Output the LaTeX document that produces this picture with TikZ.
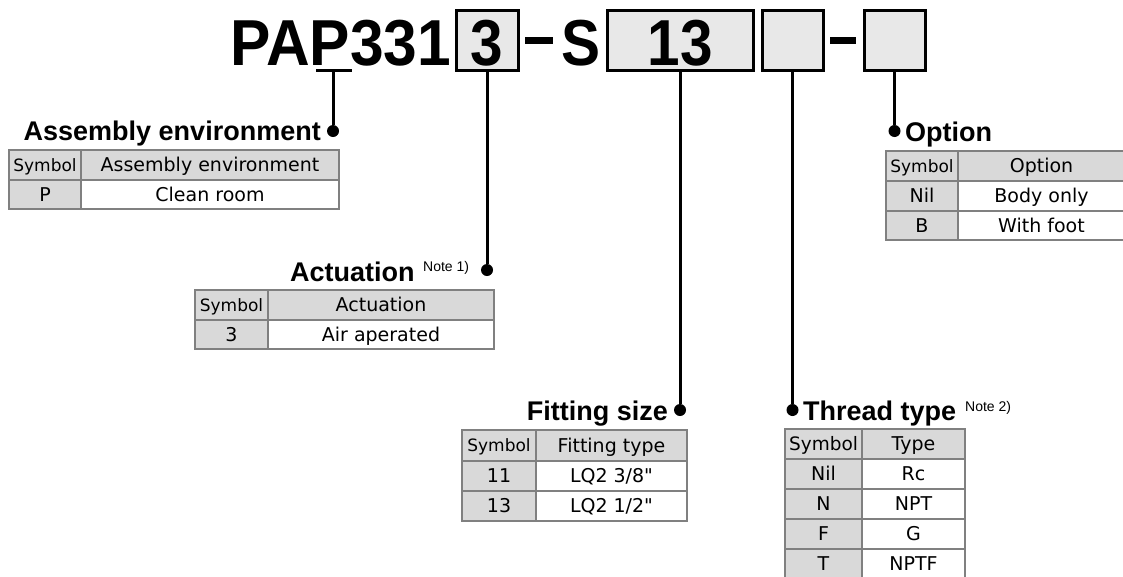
\documentclass[tikz,border=0pt]{standalone}
\usepackage{fontspec}
\setmainfont{DejaVu Sans}[Ligatures=TeXOff]
\newfontfamily\hfont{Liberation Sans}
\definecolor{tblgray}{HTML}{808080}
\definecolor{hdrgray}{HTML}{D9D9D9}
\definecolor{boxgray}{HTML}{E8E8E8}
\newcommand\tcell[8]{%
  \path[draw=tblgray, fill=#6, line width=1.3] (#2,#3) rectangle (#4,#5);
  \node[inner sep=0, anchor=base, font=\fontsize{#7}{#7}\selectfont] (#1) at ({(#2+#4)/2},{(#3+#5)/2+0.36*#7}) {#8};}
\begin{document}
\begin{tikzpicture}[x=1pt,y=-1pt,
  codebox/.style={draw=black, line width=3, fill=boxgray, minimum height=60, inner sep=0},
  bigtxt/.style={font=\hfont\bfseries\fontsize{65}{65}\selectfont, inner sep=0},
  head/.style={font=\hfont\bfseries\fontsize{27}{27}\selectfont, inner sep=0},
  note/.style={font=\hfont\fontsize{14}{14}\selectfont, inner sep=0},
  conn/.style={draw=black, line width=3},
  dotmark/.style={circle, fill=black, inner sep=0, minimum size=12}]
\useasboundingbox (0,0) rectangle (1123,576);
\fill[white] (0,0) rectangle (1123,576);
% code line
\node[bigtxt, anchor=base west] (pap) at (230,65) {\scalebox{0.93}[1]{PAP331}};
\node[codebox, minimum width=62] (b1) at (487,40) {};
\node[bigtxt, anchor=base] (t1) at (487,65) {\scalebox{0.9}[1]{3}};
\fill (525,37) rectangle (553,44);
\node[bigtxt, anchor=base west] (s) at (561,65) {\scalebox{0.9}[1]{S}};
\node[codebox, minimum width=146] (b2) at (680,40) {};
\node[bigtxt, anchor=base] (t2) at (680,65) {\scalebox{0.9}[1]{13}};
\node[codebox, minimum width=61] (b3) at (792.5,40) {};
\fill (830,37) rectangle (856,44);
\node[codebox, minimum width=61] (b4) at (894.5,40) {};
% underline of P
\coordinate (uL) at (316,70.5);
\coordinate (uR) at (352,70.5);
\coordinate (uP) at (333,70.5);
\draw[line width=3] (uL) -- (uR);
% headings
\node[head, anchor=base east] (hAsm) at (321,140) {Assembly environment};
\node[dotmark] (dA) at (333,131) {};
\draw[conn] (uP) -- (dA);
\node[head, anchor=base west] (hAct) at (290,281) {Actuation};
\node[note, anchor=base west] (n1) at (423,271) {Note 1)};
\node[dotmark] (dB) at (487,270) {};
\draw[conn] (b1.south) -- (dB);
\node[head, anchor=base east] (hFit) at (668,420) {Fitting size};
\node[dotmark] (dC) at (680,410) {};
\draw[conn] (b2.south) -- (dC);
\node[head, anchor=base west] (hThr) at (803,420) {Thread type};
\node[note, anchor=base west] (n2) at (965,411) {Note 2)};
\node[dotmark] (dD) at (792.5,410) {};
\draw[conn] (b3.south) -- (dD);
\node[head, anchor=base west] (hOpt) at (905,141) {Option};
\node[dotmark] (dE) at (894.5,131) {};
\draw[conn] (b4.south) -- (dE);
% Assembly table
\tcell{a11}{9}{150}{81}{180}{hdrgray}{17}{Symbol}
\tcell{a12}{81}{150}{339}{180}{hdrgray}{19}{Assembly environment}
\tcell{a21}{9}{180}{81}{209}{hdrgray}{19}{P}
\tcell{a22}{81}{180}{339}{209}{white}{19}{Clean room}
% Actuation table
\tcell{c11}{195}{290}{268}{320}{hdrgray}{17}{Symbol}
\tcell{c12}{268}{290}{494}{320}{hdrgray}{19}{Actuation}
\tcell{c21}{195}{320}{268}{349}{hdrgray}{19}{3}
\tcell{c22}{268}{320}{494}{349}{white}{19}{Air aperated}
% Fitting table
\tcell{f11}{462}{430}{536}{461}{hdrgray}{17}{Symbol}
\tcell{f12}{536}{430}{687}{461}{hdrgray}{19}{Fitting type}
\tcell{f21}{462}{461}{536}{491}{hdrgray}{19}{11}
\tcell{f22}{536}{461}{687}{491}{white}{19}{LQ2 3/8"}
\tcell{f31}{462}{491}{536}{521}{hdrgray}{19}{13}
\tcell{f32}{536}{491}{687}{521}{white}{19}{LQ2 1/2"}
% Thread table
\tcell{t11}{785}{429}{862}{459}{hdrgray}{18.5}{Symbol}
\tcell{t12}{862}{429}{965}{459}{hdrgray}{19}{Type}
\tcell{t21}{785}{459}{862}{489}{hdrgray}{19}{Nil}
\tcell{t22}{862}{459}{965}{489}{white}{19}{Rc}
\tcell{t31}{785}{489}{862}{519}{hdrgray}{19}{N}
\tcell{t32}{862}{489}{965}{519}{white}{19}{NPT}
\tcell{t41}{785}{519}{862}{549}{hdrgray}{19}{F}
\tcell{t42}{862}{519}{965}{549}{white}{19}{G}
\tcell{t51}{785}{549}{862}{579}{hdrgray}{19}{T}
\tcell{t52}{862}{549}{965}{579}{white}{19}{NPTF}
% Option table
\tcell{o11}{886}{151}{958}{181}{hdrgray}{17}{Symbol}
\tcell{o12}{958}{151}{1125}{181}{hdrgray}{19}{Option}
\tcell{o21}{886}{181}{958}{211}{hdrgray}{19}{Nil}
\tcell{o22}{958}{181}{1125}{211}{white}{19}{Body only}
\tcell{o31}{886}{211}{958}{240}{hdrgray}{19}{B}
\tcell{o32}{958}{211}{1125}{240}{white}{19}{With foot}
\end{tikzpicture}
\end{document}
